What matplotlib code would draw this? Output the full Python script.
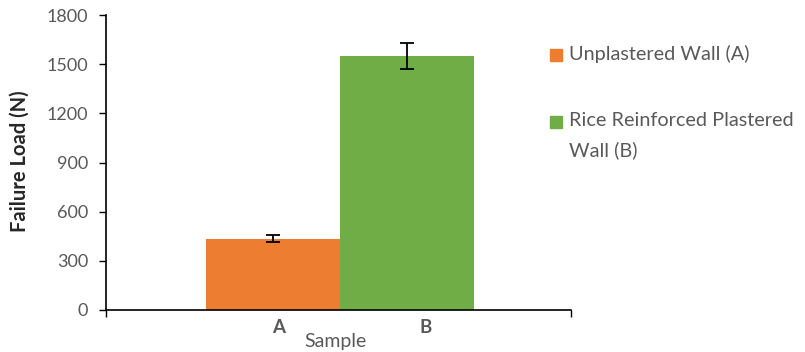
import matplotlib
matplotlib.use("Agg")
import matplotlib.pyplot as plt
from matplotlib.patches import Rectangle

# data
samples = ["A", "B"]
loads = [435, 1550]
errors = [22, 78]
colors = ["#ED7D31", "#70AD47"]
legend_labels = ["Unplastered Wall (A)", "Rice Reinforced Plastered\nWall (B)"]
yticks = [0, 300, 600, 900, 1200, 1500, 1800]

plt.rcParams["font.family"] = ["Lato", "DejaVu Sans"]
grey = "#595959"

fig = plt.figure(figsize=(8.05, 3.52), dpi=100)
ax = fig.add_axes([106 / 805, 1 - 310 / 352, 465 / 805, 295 / 352])

x = list(range(len(samples)))
ax.bar(x, loads, width=1.0, color=colors, zorder=2)
ax.errorbar(x, loads, yerr=errors, fmt="none", ecolor="black",
            elinewidth=1.3, capsize=5, capthick=1.3, zorder=3)

ax.set_xlim(-1.246, 2.224)
ax.set_ylim(0, 1800)
ax.set_yticks(yticks)
ax.set_yticklabels([str(v) for v in yticks], fontsize=13, color=grey)
ax.tick_params(axis="y", direction="out", length=5, width=1, color="black", pad=8)
ax.set_xticks([-1.246, 2.224])
ax.set_xticklabels(["", ""])
ax.tick_params(axis="x", direction="out", length=5, width=1, color="black")
ax.spines["top"].set_visible(False)
ax.spines["right"].set_visible(False)
for s in ["left", "bottom"]:
    ax.spines[s].set_linewidth(1.2)
    ax.spines[s].set_color("black")

# category labels (offset as in the original)
for lab, xp in zip(samples, [0.045, 1.14]):
    ax.text(xp, -0.03, lab, transform=ax.get_xaxis_transform(), ha="center",
            va="top", fontsize=13.5, fontweight="bold", color=grey)
fig.text(335 / 805, 1 - 342 / 352, "Sample", ha="center", va="center",
         fontsize=14, color=grey)
fig.text(20 / 805, 1 - 161 / 352, "Failure Load (N)", rotation=90,
         ha="center", va="center", fontsize=14.5, fontweight="bold", color="#262626")

# legend drawn by hand
leg_y = [55, 122]
for c, lab, yy in zip(colors, legend_labels, leg_y):
    fig.patches.append(Rectangle((550 / 805, 1 - (yy + 6) / 352), 12 / 805, 12 / 352,
                                 transform=fig.transFigure, color=c))
    fig.text(569 / 805, 1 - (yy - 10) / 352, lab, ha="left", va="top",
             fontsize=14.3, color=grey, linespacing=1.85)

fig.savefig("out.png", dpi=100)
